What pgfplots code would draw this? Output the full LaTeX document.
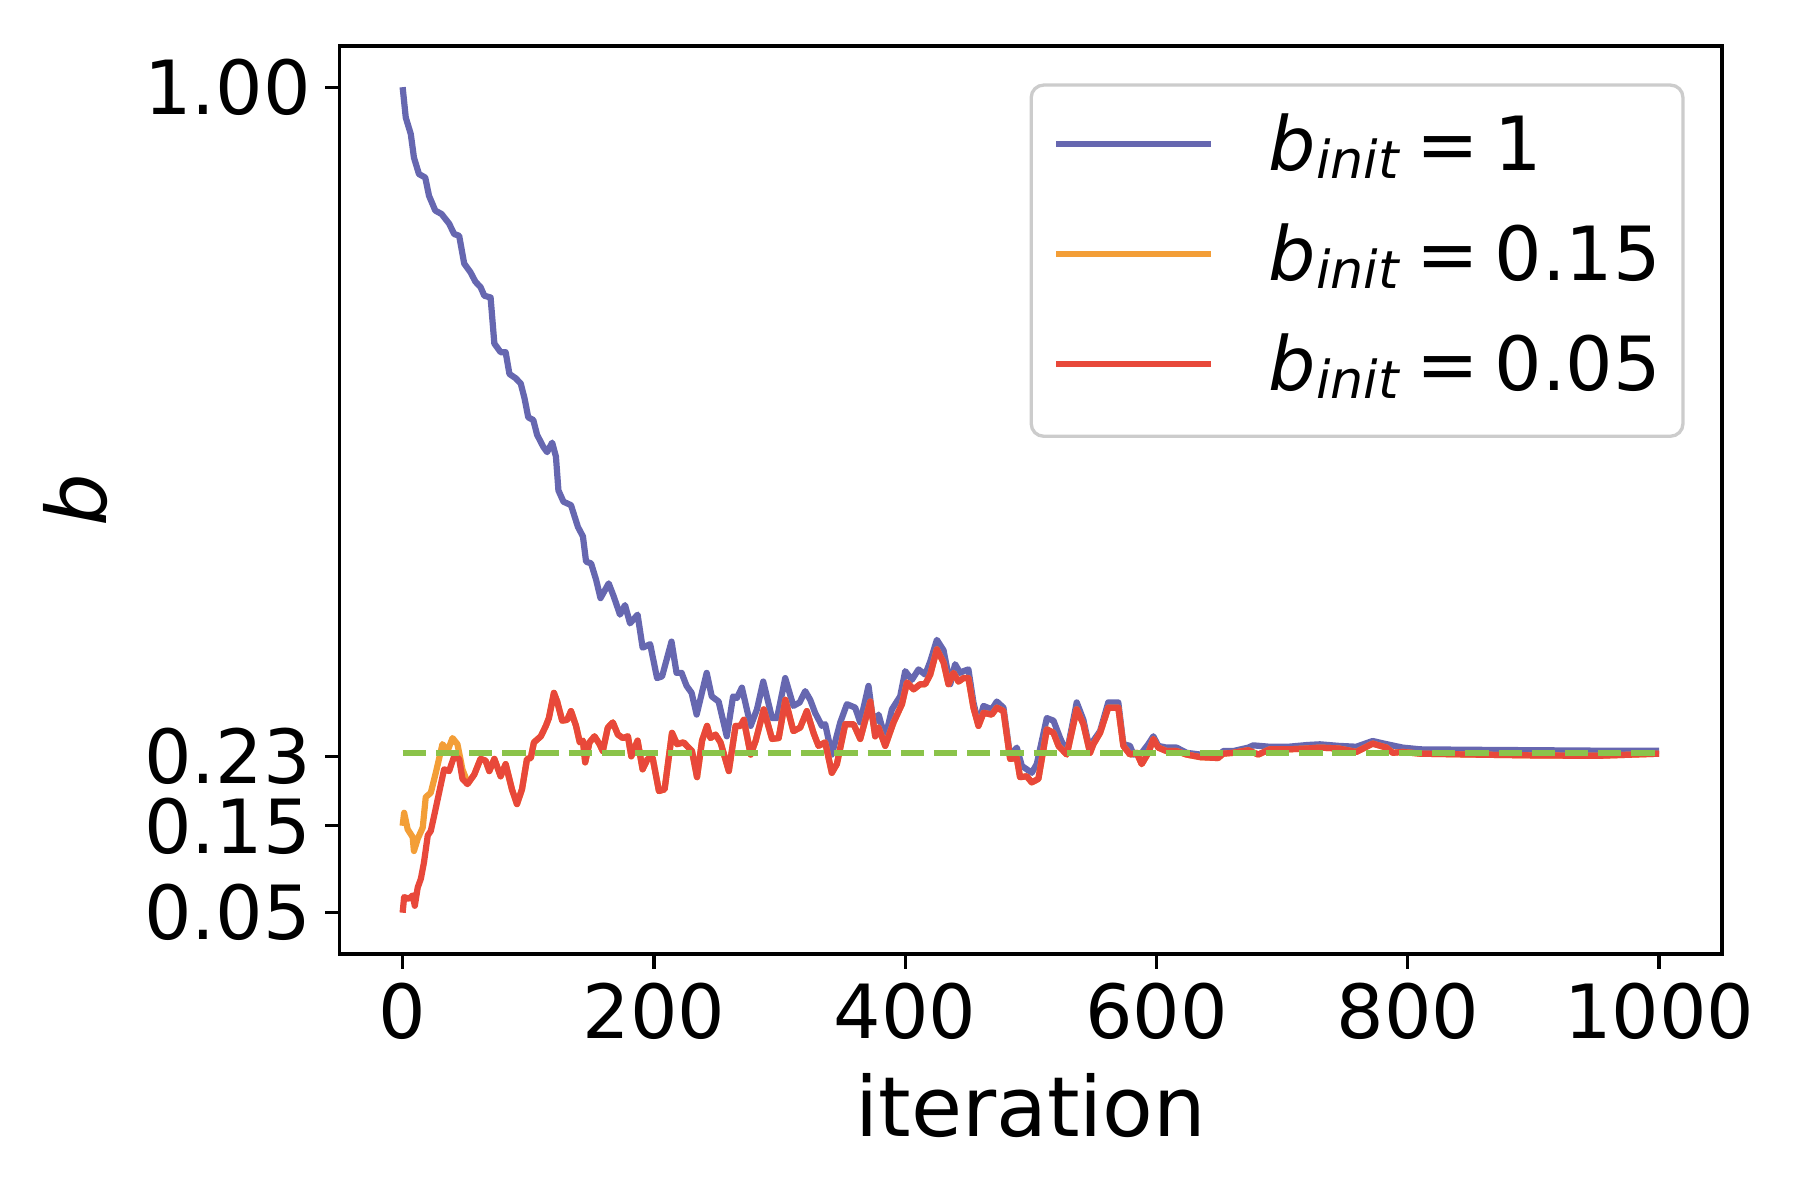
\documentclass[border=0pt]{standalone}
\usepackage{fontspec}
\setmainfont{DejaVu Sans}
\usepackage{pgfplots}
\usepackage{pgfplotstable}
\pgfplotsset{compat=1.18}
\definecolor{cblue}{RGB}{102,103,176}
\definecolor{corange}{RGB}{243,158,55}
\definecolor{cred}{RGB}{232,72,58}
\definecolor{cgreen}{RGB}{139,195,74}

\newcommand{\binit}[1]{\textit{b}\raisebox{-2pt}{\fontsize{12.6}{12.6}\selectfont\textit{init}}\hspace{3.8pt}=\hspace{3.8pt}#1}

% b_init = 1
\pgfplotstableread{
x y
0 1.000
2.5 0.965
6.5 0.946
9 0.919
13 0.900
18 0.896
21 0.875
26 0.858
31 0.854
37 0.843
41 0.831
45 0.829
49 0.797
54 0.787
58 0.776
62 0.770
65 0.760
70 0.758
73 0.705
78 0.695
82 0.695
85 0.670
90 0.665
94 0.659
97 0.642
100 0.620
104 0.617
107 0.600
112 0.586
115 0.580
119 0.591
122 0.575
124 0.536
128 0.523
134 0.519
139.5 0.494
143.5 0.483
146 0.454
150 0.452
154 0.433
157.5 0.412
164 0.429
168 0.414
173 0.393
177 0.404
181 0.383
187 0.393
191 0.355
197 0.359
202.5 0.320
206.5 0.322
214 0.362
218 0.326
222 0.326
226 0.311
230 0.303
234 0.278
242 0.326
246 0.299
251.5 0.293
258 0.253
263 0.299
266 0.297
270 0.309
277 0.265
282 0.284
287 0.316
294 0.274
298 0.274
304.5 0.320
311 0.288
316 0.292
320.4 0.305
324.4 0.295
328.3 0.280
333.7 0.265
336.3 0.267
341.6 0.232
348.3 0.269
353.6 0.290
360.2 0.286
364.2 0.269
370.8 0.311
374.8 0.267
378.8 0.278
384.1 0.251
389.4 0.284
396 0.299
400 0.328
405.3 0.318
410.6 0.330
415.9 0.324
419.9 0.339
425.2 0.364
430.5 0.352
435.8 0.313
439.7 0.336
443.7 0.326
446.4 0.328
450.3 0.330
454.3 0.292
458.3 0.267
462.3 0.288
468.9 0.284
472.9 0.293
478.2 0.286
483.5 0.230
488.8 0.240
492.8 0.219
500.7 0.211
504.7 0.221
512.7 0.274
518 0.271
523.3 0.251
528.6 0.234
536.5 0.292
541.8 0.272
547.1 0.236
549.8 0.248
555.1 0.259
561.6 0.292
569.6 0.292
573.6 0.244
578.9 0.242
581.6 0.232
588.2 0.234
593.5 0.244
597.5 0.253
601.4 0.242
608 0.240
616 0.240
624 0.234
635 0.232
649 0.230
653 0.236
661 0.236
673 0.240
677 0.2426
690 0.241
705 0.241
720 0.243
730 0.2438
745 0.242
759 0.241
772 0.2476
783 0.244
796 0.240
810 0.238
850 0.2375
900 0.237
950 0.2365
1000 0.2365
}\tblue

% b_init = 0.05
\pgfplotstableread{
x y
0 0.050
1.2 0.068
5 0.066
8 0.070
9.7 0.058
12 0.079
14.5 0.089
17 0.108
20 0.139
22.4 0.144
25 0.161
29 0.188
33 0.215
37 0.213
41 0.230
45 0.227
47.6 0.204
51.6 0.198
57 0.209
62 0.227
66 0.225
69 0.213
73 0.227
78 0.207
82 0.221
87 0.192
91 0.175
95 0.192
99 0.227
102 0.228
104.5 0.246
110 0.253
114 0.265
116.4 0.274
120.4 0.303
123 0.293
127 0.271
131 0.272
134 0.282
138 0.265
141 0.246
143.5 0.248
145.3 0.223
148.7 0.246
152.7 0.253
156.7 0.244
159.3 0.236
163.3 0.263
167.3 0.269
171.3 0.255
175.3 0.251
179.3 0.253
182 0.230
187 0.248
191 0.215
195 0.227
199 0.228
204 0.190
208.5 0.192
214.4 0.257
218.4 0.244
223.6 0.246
230.3 0.236
234.3 0.206
238.3 0.248
242.3 0.265
245 0.251
249 0.255
253 0.246
259.6 0.213
265 0.265
269 0.265
271.5 0.272
277 0.232
281 0.248
287.4 0.284
294 0.250
299.3 0.251
304.6 0.295
311 0.259
316.4 0.263
321.7 0.282
327 0.257
331 0.242
336.3 0.246
341.6 0.211
345.6 0.221
352.3 0.267
358.9 0.267
364.2 0.250
372.2 0.293
376.1 0.253
378.8 0.263
384.1 0.242
390.7 0.269
397.4 0.290
401.4 0.315
406.7 0.307
412 0.313
415.9 0.313
419.9 0.324
425.2 0.353
430.5 0.338
434.4 0.313
438.4 0.326
442.4 0.316
446.4 0.320
450.3 0.320
454.3 0.286
458.3 0.265
462.3 0.280
468.9 0.278
472.9 0.286
478.2 0.282
483.5 0.227
488.8 0.228
491.4 0.206
496.7 0.207
500.7 0.200
506 0.204
512.7 0.261
518 0.257
522 0.242
528.6 0.232
536.5 0.284
541.8 0.267
547.1 0.234
549.8 0.244
555.1 0.257
561.6 0.286
569.6 0.286
573.6 0.242
578.9 0.232
584.2 0.234
588.2 0.221
593.5 0.234
597.5 0.250
601.4 0.240
608 0.236
616 0.236
624 0.232
635 0.229
649 0.228
653 0.233
661 0.234
673 0.237
681 0.232
690 0.238
705 0.238
720 0.239
730 0.240
745 0.239
759 0.235
772 0.2446
783 0.240
788 0.234
796 0.235
810 0.233
850 0.232
900 0.231
950 0.2305
1000 0.233
}\tred

% b_init = 0.15 (start; afterwards it runs with the 0.05 curve)
\pgfplotstableread{
x y
0 0.150
1.2 0.165
4 0.146
8 0.137
9 0.121
12 0.135
16 0.148
18.4 0.183
22.4 0.188
26.4 0.211
31.7 0.244
35.7 0.236
39.7 0.251
43.6 0.244
47.6 0.215
51.6 0.200
}\torange

\begin{document}
\begin{tikzpicture}
\begin{axis}[
  name=ax, at={(0,0)}, anchor=south west,
  scale only axis, width=4.607in, height=3.027in,
  xmin=-50, xmax=1050, ymin=0.0025, ymax=1.0475,
  xtick={0,200,400,600,800,1000},
  ytick={0.05,0.15,0.23,1.00},
  xtick pos=bottom, ytick pos=left,
  tick align=outside, major tick length=3.5pt,
  every tick/.style={black, line width=0.8pt},
  axis line style={line width=0.8pt},
  tick label style={font=\fontsize{18}{21.6}\selectfont},
  /pgf/number format/assume math mode=true,
  xticklabel style={/pgf/number format/1000 sep={}},
  yticklabel style={/pgf/number format/.cd, fixed, fixed zerofill, precision=2},
  xlabel={iteration},
  xlabel style={font=\fontsize{20}{24}\selectfont, at={(axis description cs:0.5,-0.2015)}, anchor=base},
  ylabel={b},
  ylabel style={font=\fontsize{20}{24}\selectfont\itshape, at={(axis description cs:-0.191,0.5)}, anchor=center},
  every axis plot/.append style={line width=1.5pt, line join=round},
  legend cell align=left,
  legend image code/.code={\draw[#1] (0pt,1.6pt) -- (37.2pt,1.6pt); \path (50.4pt,1.6pt);},
  legend style={at={(axis description cs:0.973,0.9587)}, anchor=north east,
    draw=black!20, line width=0.8pt, rounded corners=3pt, fill=white,
    font=\fontsize{18}{21.6}\selectfont,
    inner xsep=5.3pt, inner ysep=3.9pt, row sep=2.7pt,
    nodes={inner sep=0pt, text height=16.6pt, text depth=7.2pt}},
]
\addplot[cblue] table {\tblue};
\addlegendentry{\binit{1}}
\addplot[corange] table {\torange};
\addlegendentry{\binit{0.15}}
\addplot[corange, forget plot, restrict x to domain=51:1000] table {\tred};
\addplot[cred] table {\tred};
\addlegendentry{\binit{0.05}}
\addplot[cgreen, dash pattern=on 5.6pt off 2.4pt, forget plot] coordinates {(0,0.2335) (1000,0.2335)};
\end{axis}
\path[use as bounding box] (-1.1327in,-0.82in) rectangle (4.8673in,3.18in);
\end{tikzpicture}
\end{document}
